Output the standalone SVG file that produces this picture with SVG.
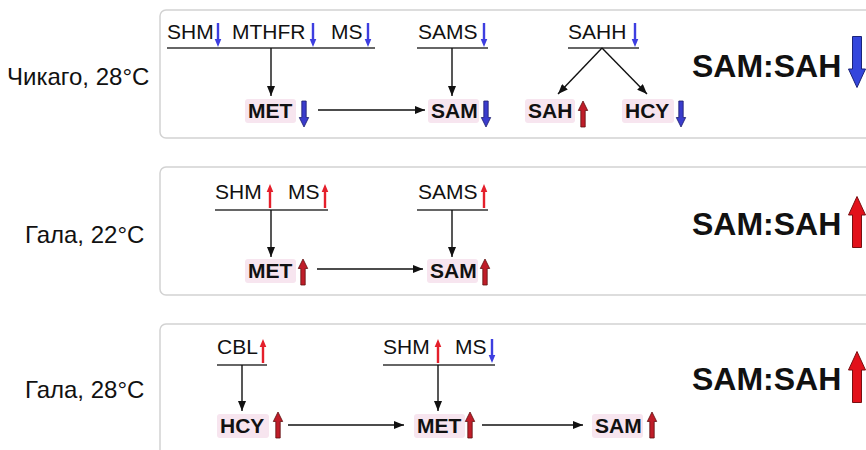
<svg xmlns="http://www.w3.org/2000/svg" width="866" height="450" viewBox="0 0 866 450">
  <style>
    .panel { fill: #ffffff; stroke: #d2d2d2; stroke-width: 1.5; }
    .cond { font-family: "Liberation Sans", Arial, sans-serif; font-size: 24px; fill: #111; }
    .enz { font-family: "Liberation Sans", Arial, sans-serif; font-size: 21px; fill: #111; }
    .met { font-family: "Liberation Sans", Arial, sans-serif; font-size: 21px; font-weight: bold; fill: #111; }
    .ratio { font-family: "Liberation Sans", Arial, sans-serif; font-size: 32px; font-weight: bold; fill: #111; }
    .glow { fill: #f7e5ef; }
    .bar { stroke: #333; stroke-width: 1.5; fill: none; }
    .edge { stroke: #111; stroke-width: 1.4; fill: none; marker-end: url(#head); }
    .sblue { fill: #3d3ee0; }
    .sred { fill: #e41f2b; }
    .mblue { fill: #3a3ccc; stroke: #1c1c6a; stroke-width: 0.8; }
    .mred { fill: #bf1d29; stroke: #5e1010; stroke-width: 0.8; }
    .bblue { fill: #3446dc; stroke: #1b237a; stroke-width: 1; }
    .bred { fill: #e2111b; stroke: #7a0f12; stroke-width: 1; }
  </style>
  <defs>
    <marker id="head" viewBox="0 0 10 8" refX="10" refY="4" markerWidth="10" markerHeight="8" markerUnits="userSpaceOnUse" orient="auto">
      <path d="M0,0 L10,4 L0,8 Z" fill="#111"/>
    </marker>
    <!-- small level indicators (enzymes) -->
    <path id="sdn" d="M-1.2,-12 H1.2 V4 H3.3 L0,12 L-3.3,4 H-1.2 Z"/>
    <path id="sup" d="M-1.2,12 H1.2 V-4 H3.3 L0,-12 L-3.3,-4 H-1.2 Z"/>
    <!-- medium level indicators (metabolites) -->
    <path id="mdn" d="M-2.2,-13 H2.2 V3.5 H4.7 L0,13 L-4.7,3.5 H-2.2 Z"/>
    <path id="mup" d="M-2.2,13 H2.2 V-3.5 H4.7 L0,-13 L-4.7,-3.5 H-2.2 Z"/>
    <!-- large level indicators (ratio) -->
    <path id="bdn" d="M-4.5,-25.5 H4.5 V7 H8.5 L0,25.5 L-8.5,7 H-4.5 Z"/>
    <path id="bup" d="M-4.5,25.5 H4.5 V-7 H8.5 L0,-25.5 L-8.5,-7 H-4.5 Z"/>
  </defs>

  <rect width="866" height="450" fill="#ffffff"/>

  <!-- panel frames -->
  <g id="panels">
    <rect class="panel" x="160" y="10" width="720" height="128" rx="6"/>
    <rect class="panel" x="160" y="167" width="720" height="128" rx="6"/>
    <rect class="panel" x="160" y="324" width="720" height="140" rx="6"/>
  </g>

  <!-- condition labels -->
  <g id="cond-chicago28"><text class="cond" x="7" y="85">Чикаго, 28°C</text></g>
  <g id="cond-gala22"><text class="cond" x="25" y="243">Гала, 22°C</text></g>
  <g id="cond-gala28"><text class="cond" x="25" y="398">Гала, 28°C</text></g>

  <!-- ===== Panel 1 ===== -->
  <g id="p1-enz-met">
    <text class="enz" x="167" y="39">SHM</text>
    <use href="#sdn" class="sblue" x="218" y="35"/>
    <text class="enz" x="232" y="39">MTHFR</text>
    <use href="#sdn" class="sblue" x="313" y="35"/>
    <text class="enz" x="331" y="39">MS</text>
    <use href="#sdn" class="sblue" x="368" y="35"/>
    <line class="bar" x1="167" y1="48" x2="375" y2="48"/>
  </g>
  <g id="p1-enz-sams">
    <text class="enz" x="418" y="39">SAMS</text>
    <use href="#sdn" class="sblue" x="484" y="35"/>
    <line class="bar" x1="417" y1="48" x2="488" y2="48"/>
  </g>
  <g id="p1-enz-sahh">
    <text class="enz" x="568" y="39">SAHH</text>
    <use href="#sdn" class="sblue" x="635" y="35"/>
    <line class="bar" x1="568" y1="48" x2="639" y2="48"/>
  </g>
  <g id="p1-met">
    <rect class="glow" x="245" y="99" width="51" height="24" rx="3"/>
    <text class="met" x="248" y="118">MET</text>
    <use href="#mdn" class="mblue" x="304" y="114"/>
  </g>
  <g id="p1-sam">
    <rect class="glow" x="428" y="99" width="51" height="24" rx="3"/>
    <text class="met" x="431" y="118">SAM</text>
    <use href="#mdn" class="mblue" x="486" y="114"/>
  </g>
  <g id="p1-sah">
    <rect class="glow" x="525" y="99" width="50" height="24" rx="3"/>
    <text class="met" x="528" y="118">SAH</text>
    <use href="#mup" class="mred" x="583" y="114"/>
  </g>
  <g id="p1-hcy">
    <rect class="glow" x="622" y="99" width="52" height="24" rx="3"/>
    <text class="met" x="625" y="118">HCY</text>
    <use href="#mdn" class="mblue" x="681" y="114"/>
  </g>
  <g id="p1-ratio">
    <text class="ratio" x="692" y="77">SAM:SAH</text>
    <use href="#bdn" class="bblue" x="857" y="62"/>
  </g>

  <!-- ===== Panel 2 ===== -->
  <g id="p2-enz-met">
    <text class="enz" x="215" y="199">SHM</text>
    <use href="#sup" class="sred" x="270" y="196"/>
    <text class="enz" x="288" y="199">MS</text>
    <use href="#sup" class="sred" x="325" y="196"/>
    <line class="bar" x1="215" y1="210" x2="328" y2="210"/>
  </g>
  <g id="p2-enz-sams">
    <text class="enz" x="418" y="199">SAMS</text>
    <use href="#sup" class="sred" x="484" y="196"/>
    <line class="bar" x1="417" y1="210" x2="488" y2="210"/>
  </g>
  <g id="p2-met">
    <rect class="glow" x="245" y="259" width="51" height="24" rx="3"/>
    <text class="met" x="248" y="278">MET</text>
    <use href="#mup" class="mred" x="303" y="272"/>
  </g>
  <g id="p2-sam">
    <rect class="glow" x="427" y="259" width="51" height="24" rx="3"/>
    <text class="met" x="430" y="278">SAM</text>
    <use href="#mup" class="mred" x="485" y="272"/>
  </g>
  <g id="p2-ratio">
    <text class="ratio" x="692" y="235">SAM:SAH</text>
    <use href="#bup" class="bred" x="857" y="222"/>
  </g>

  <!-- ===== Panel 3 ===== -->
  <g id="p3-enz-cbl">
    <text class="enz" x="217" y="354">CBL</text>
    <use href="#sup" class="sred" x="263" y="351"/>
    <line class="bar" x1="217" y1="365" x2="267" y2="365"/>
  </g>
  <g id="p3-enz-met">
    <text class="enz" x="383" y="354">SHM</text>
    <use href="#sup" class="sred" x="438" y="351"/>
    <text class="enz" x="455" y="354">MS</text>
    <use href="#sdn" class="sblue" x="492" y="351"/>
    <line class="bar" x1="383" y1="365" x2="495" y2="365"/>
  </g>
  <g id="p3-hcy">
    <rect class="glow" x="217" y="414" width="52" height="24" rx="3"/>
    <text class="met" x="220" y="433">HCY</text>
    <use href="#mup" class="mred" x="278" y="425"/>
  </g>
  <g id="p3-met">
    <rect class="glow" x="414" y="414" width="51" height="24" rx="3"/>
    <text class="met" x="417" y="433">MET</text>
    <use href="#mup" class="mred" x="470" y="425"/>
  </g>
  <g id="p3-sam">
    <rect class="glow" x="592" y="414" width="51" height="24" rx="3"/>
    <text class="met" x="595" y="433">SAM</text>
    <use href="#mup" class="mred" x="652" y="425"/>
  </g>
  <g id="p3-ratio">
    <text class="ratio" x="692" y="390">SAM:SAH</text>
    <use href="#bup" class="bred" x="857" y="377"/>
  </g>

  <!-- connectors -->
  <g id="connectors">
    <!-- panel 1 -->
    <line class="edge" x1="271" y1="48" x2="271" y2="96"/>
    <line class="edge" x1="452" y1="48" x2="452" y2="96"/>
    <line class="edge" x1="318" y1="110" x2="425" y2="110"/>
    <line class="edge" x1="602" y1="48" x2="558" y2="94"/>
    <line class="edge" x1="602" y1="48" x2="647" y2="94"/>
    <!-- panel 2 -->
    <line class="edge" x1="271" y1="210" x2="271" y2="257"/>
    <line class="edge" x1="452" y1="210" x2="452" y2="257"/>
    <line class="edge" x1="317" y1="269" x2="423" y2="269"/>
    <!-- panel 3 -->
    <line class="edge" x1="242" y1="365" x2="242" y2="411"/>
    <line class="edge" x1="438" y1="365" x2="438" y2="411"/>
    <line class="edge" x1="288" y1="425" x2="404" y2="425"/>
    <line class="edge" x1="482" y1="425" x2="583" y2="425"/>
  </g>
</svg>
